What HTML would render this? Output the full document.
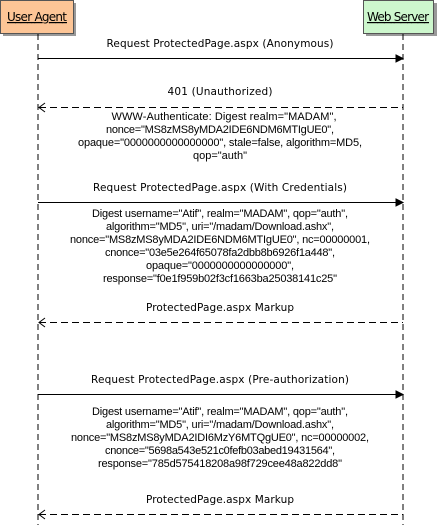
<!DOCTYPE html>
<html><head><meta charset="utf-8"><style>
html,body{margin:0;padding:0;background:#fff;width:443px;height:525px;overflow:hidden}
text{font-family:"DejaVu Sans",sans-serif;fill:#000}
.b{font-family:"Liberation Sans",Arial,sans-serif;font-size:11px}
.h{font-size:10.5px}
.t{font-size:12px}
</style></head><body>
<svg width="443" height="525" viewBox="0 0 443 525" xmlns="http://www.w3.org/2000/svg">
<rect x="3" y="3" width="73" height="33" fill="#999"/>
<rect x="0.5" y="0.5" width="73" height="33" fill="#fdc596" stroke="#555"/>
<text x="37" y="21" text-anchor="middle" class="t" text-decoration="underline" textLength="60">User Agent</text>
<rect x="366" y="3" width="71" height="33" fill="#999"/>
<rect x="363.5" y="0.5" width="70" height="33" fill="#cdf7cd" stroke="#555"/>
<text x="398" y="21" text-anchor="middle" class="t" text-decoration="underline" textLength="62">Web Server</text>
<g stroke="#000" stroke-dasharray="6,4">
<line x1="38" y1="34" x2="38" y2="525"/>
<line x1="403" y1="34" x2="403" y2="525"/>
</g>
<g stroke="#000" fill="#000">
<line x1="38" y1="58.5" x2="400" y2="58.5"/><path d="M396 55 L403 58.5 L396 62Z"/>
<line x1="38" y1="202.5" x2="400" y2="202.5"/><path d="M396 199 L403 202.5 L396 206Z"/>
<line x1="38" y1="394.5" x2="400" y2="394.5"/><path d="M396 391 L403 394.5 L396 398Z"/>
</g>
<g stroke="#000" fill="none">
<line x1="39" y1="107.5" x2="403" y2="107.5" stroke-dasharray="7,4"/><path d="M45 103 L39 107.5 L45 112"/>
<line x1="39" y1="322.5" x2="403" y2="322.5" stroke-dasharray="7,4"/><path d="M45 318 L39 322.5 L45 327"/>
<line x1="39" y1="514.5" x2="403" y2="514.5" stroke-dasharray="7,4"/><path d="M45 510 L39 514.5 L45 519"/>
</g>
<g text-anchor="middle">
<text x="220" y="47" class="h" textLength="227">Request ProtectedPage.aspx (Anonymous)</text>
<text x="220" y="95" class="h" textLength="105">401 (Unauthorized)</text>
<text class="b" x="224" y="120" textLength="225">WWW-Authenticate: Digest realm="MADAM",</text>
<text class="b" x="220" y="133" textLength="228">nonce="MS8zMS8yMDA2IDE6NDM6MTIgUE0",</text>
<text class="b" x="220" y="146" textLength="284">opaque="0000000000000000", stale=false, algorithm=MD5,</text>
<text class="b" x="220" y="159" textLength="54">qop="auth"</text>
<text x="220" y="191" class="h" textLength="254">Request ProtectedPage.aspx (With Credentials)</text>
<text class="b" x="220" y="217" textLength="256">Digest username="Atif", realm="MADAM", qop="auth",</text>
<text class="b" x="220" y="230" textLength="228">algorithm="MD5", uri="/madam/Download.ashx",</text>
<text class="b" x="220" y="243" textLength="300">nonce="MS8zMS8yMDA2IDE6NDM6MTIgUE0", nc=00000001,</text>
<text class="b" x="220" y="256" textLength="230">cnonce="03e5e264f65078fa2dbb8b6926f1a448",</text>
<text class="b" x="220" y="269" textLength="148">opaque="0000000000000000",</text>
<text class="b" x="220" y="282" textLength="234">response="f0e1f959b02f3cf1663ba25038141c25"</text>
<text x="220" y="311" class="h" textLength="148">ProtectedPage.aspx Markup</text>
<text x="220" y="383" class="h" textLength="258">Request ProtectedPage.aspx (Pre-authorization)</text>
<text class="b" x="220" y="415" textLength="256">Digest username="Atif", realm="MADAM", qop="auth",</text>
<text class="b" x="220" y="428" textLength="228">algorithm="MD5", uri="/madam/Download.ashx",</text>
<text class="b" x="220" y="441" textLength="298">nonce="MS8zMS8yMDA2IDI6MzY6MTQgUE0", nc=00000002,</text>
<text class="b" x="220" y="454" textLength="230">cnonce="5698a543e521c0fefb03abed19431564",</text>
<text class="b" x="220" y="467" textLength="244">response="785d575418208a98f729cee48a822dd8"</text>
<text x="220" y="503" class="h" textLength="148">ProtectedPage.aspx Markup</text>
</g>
</svg>
</body></html>
